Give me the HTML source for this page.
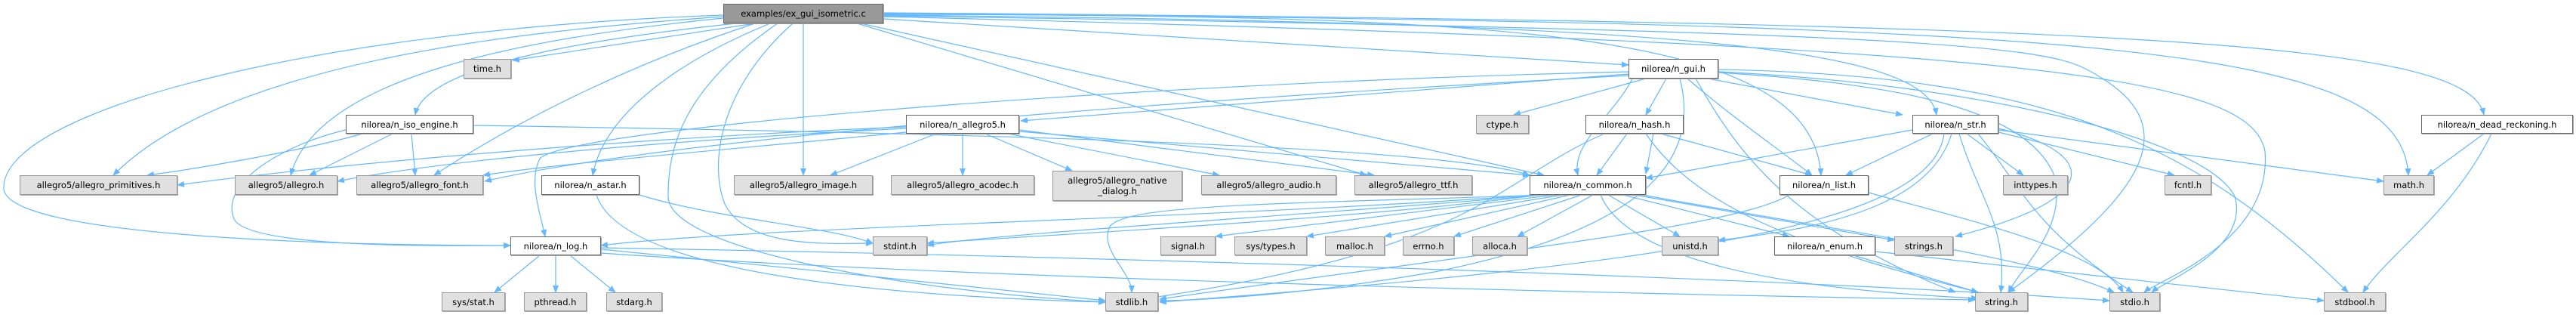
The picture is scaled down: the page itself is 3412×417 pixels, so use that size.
<!DOCTYPE html>
<html><head><meta charset="utf-8"><style>
body{margin:0;width:3412px;height:417px;background:#fff;position:relative;overflow:hidden;font-family:"DejaVu Sans","Liberation Sans",sans-serif;}
.n{position:absolute;box-sizing:border-box;border:1px solid #666;background:#fff;font-size:11.5px;color:#000;display:flex;align-items:center;justify-content:center;text-align:center;line-height:14px;white-space:nowrap;box-shadow:1px 1px 0 #aaa;}
.g{background:#e0e0e0;border-color:#999;}
.m{background:#999;border-color:#666;}
svg{position:absolute;left:0;top:0;}
</style></head><body>
<svg width="3412" height="417" viewBox="0 0 3412 417">
<defs><marker id="a" markerWidth="10" markerHeight="8" refX="9" refY="4" orient="auto" markerUnits="userSpaceOnUse"><path d="M0,0 L10,4 L0,8 z" fill="#63b8ff"/></marker></defs>
<g fill="none" stroke="#63b8ff" stroke-width="1.2" marker-end="url(#a)">
<!-- main -->
<path d="M958,22 C700,40 300,80 150,232"/>
<path d="M958,24 C700,50 420,100 385,232"/>
<path d="M958,20 C400,40 0,150 5,250 C10,310 400,325 676,325"/>
<path d="M1000,31 L679,80"/>
<path d="M975,31 C700,60 560,100 550,152"/>
<path d="M1000,31 C850,80 700,150 575,232"/>
<path d="M1020,31 C900,80 800,150 785,232"/>
<path d="M1064,31 L1064,232"/>
<path d="M1030,31 C900,120 885,200 885,260 C885,330 1200,385 1464,400"/>
<path d="M1050,31 C950,120 940,220 960,270 C990,330 1100,322 1156,322"/>
<path d="M1135,31 L1810,232"/>
<path d="M1140,31 L2045,232"/>
<path d="M1170,25 L2157,86"/>
<path d="M1170,19 C2000,20 2400,40 2412,232"/>
<path d="M1170,20 C2200,30 2550,60 2565,152"/>
<path d="M1170,18 C2800,30 3180,60 3190,232"/>
<path d="M1170,17 C2900,30 3270,60 3290,152"/>
<path d="M1170,21 C2500,40 2700,60 2760,90 C2900,160 2850,250 2660,387"/>
<path d="M1170,22 C2700,60 2980,100 3000,200 C3010,320 2860,370 2840,387"/>
<!-- iso -->
<path d="M480,177 C400,200 250,225 195,232"/>
<path d="M520,177 L410,232"/>
<path d="M545,177 L550,232"/>
<path d="M458,172 C380,190 290,240 310,290 C330,330 600,325 676,325"/>
<path d="M627,166 C1200,175 1900,190 2026,232"/>
<!-- gui -->
<path d="M2157,98 L1352,160"/>
<path d="M2157,95 C1500,110 750,170 715,210 C700,240 715,280 722,313"/>
<path d="M2157,100 C1600,130 900,180 642,240"/>
<path d="M2180,104 L2005,152"/>
<path d="M2207,104 L2180,152"/>
<path d="M2162,104 C2140,150 2080,190 2090,232"/>
<path d="M2225,104 C2250,200 2200,300 1900,360 C1700,395 1560,398 1536,398"/>
<path d="M2235,104 C2300,160 2360,200 2400,232"/>
<path d="M2262,104 L2520,152"/>
<path d="M2276,96 C2500,110 2680,140 2720,230 C2740,300 2680,350 2660,387"/>
<path d="M2276,95 C2600,110 2920,180 2960,260 C2980,330 2870,370 2850,387"/>
<path d="M2276,92 C2700,100 2900,180 3110,387"/>
<path d="M2246,104 C2300,200 2370,300 2590,387"/>
<!-- allegro5 -->
<path d="M1200,168 C900,180 500,210 235,245"/>
<path d="M1200,170 C900,185 600,210 447,240"/>
<path d="M1200,175 C1000,195 750,215 640,232"/>
<path d="M1240,177 L1100,232"/>
<path d="M1275,177 L1275,232"/>
<path d="M1305,177 L1420,226"/>
<path d="M1335,177 L1615,232"/>
<path d="M1350,172 L1820,232"/>
<path d="M1350,174 L2026,232"/>
<!-- hash -->
<path d="M2155,177 L2115,232"/>
<path d="M2125,177 C1980,240 1960,330 1520,395"/>
<path d="M2200,177 L2400,232"/>
<path d="M2180,177 C2250,280 2400,330 2620,387"/>
<path d="M2190,177 L2180,230"/>
<!-- str -->
<path d="M2533,172 L2180,236"/>
<path d="M2560,177 L2445,232"/>
<path d="M2605,177 L2680,232"/>
<path d="M2647,175 L2880,232"/>
<path d="M2647,172 L3157,240"/>
<path d="M2647,170 C2770,200 2800,260 2590,313"/>
<path d="M2595,177 C2620,260 2660,300 2650,387"/>
<path d="M2620,177 C2680,250 2690,300 2825,387"/>
<path d="M2585,177 C2560,260 2450,300 2276,318"/>
<path d="M2575,177 C2560,300 2200,350 1536,400"/>
<!-- dead -->
<path d="M3290,177 L3215,232"/>
<path d="M3300,177 C3250,280 3160,340 3130,387"/>
<!-- astar -->
<path d="M847,258 C950,290 1100,300 1156,322"/>
<path d="M790,258 C820,350 1100,390 1464,400"/>
<!-- common -->
<path d="M2035,258 C1600,290 1000,300 796,325"/>
<path d="M2040,258 C1800,290 1400,310 1228,322"/>
<path d="M2045,258 C1800,280 1300,310 1228,325"/>
<path d="M2060,258 L1610,313"/>
<path d="M2070,258 L1731,313"/>
<path d="M2080,258 L1834,313"/>
<path d="M2095,258 L1926,313"/>
<path d="M2110,258 L2010,313"/>
<path d="M2130,258 L2225,313"/>
<path d="M2150,258 L2370,313"/>
<path d="M2165,258 L2509,318"/>
<path d="M2120,258 C2150,330 2300,380 2620,395"/>
<path d="M2050,258 C1700,270 1490,270 1470,300 C1455,330 1499,360 1499,387"/>
<path d="M2176,258 C2400,300 2700,340 2800,387"/>
<!-- list -->
<path d="M2370,258 C2300,300 2000,330 1536,396"/>
<path d="M2475,255 C2600,290 2780,330 2812,387"/>
<!-- enum -->
<path d="M2455,338 L2620,387"/>
<path d="M2484,333 L3078,398"/>
<!-- log -->
<path d="M715,338 L655,387"/>
<path d="M736,338 L736,387"/>
<path d="M755,338 L815,387"/>
<path d="M796,330 C1000,350 1300,380 1464,398"/>
<path d="M796,328 C1500,340 2400,370 2794,398"/>
<path d="M796,335 C1300,370 2200,390 2616,397"/>
</g>
</svg>
<div class="n m" style="left:958px;top:5px;width:212px;height:26px">examples/ex_gui_isometric.c</div>
<div class="n g" style="left:614px;top:78px;width:63px;height:26px">time.h</div>
<div class="n" style="left:2157px;top:78px;width:119px;height:26px">nilorea/n_gui.h</div>
<div class="n" style="left:458px;top:152px;width:169px;height:25px">nilorea/n_iso_engine.h</div>
<div class="n" style="left:1200px;top:152px;width:150px;height:25px">nilorea/n_allegro5.h</div>
<div class="n g" style="left:1955px;top:152px;width:70px;height:25px">ctype.h</div>
<div class="n" style="left:2100px;top:152px;width:130px;height:25px">nilorea/n_hash.h</div>
<div class="n" style="left:2533px;top:152px;width:114px;height:25px">nilorea/n_str.h</div>
<div class="n" style="left:3207px;top:152px;width:201px;height:25px">nilorea/n_dead_reckoning.h</div>
<div class="n g" style="left:26px;top:232px;width:209px;height:26px">allegro5/allegro_primitives.h</div>
<div class="n g" style="left:311px;top:232px;width:136px;height:26px">allegro5/allegro.h</div>
<div class="n g" style="left:472px;top:232px;width:168px;height:26px">allegro5/allegro_font.h</div>
<div class="n" style="left:717px;top:232px;width:130px;height:26px">nilorea/n_astar.h</div>
<div class="n g" style="left:972px;top:232px;width:184px;height:26px">allegro5/allegro_image.h</div>
<div class="n g" style="left:1180px;top:232px;width:190px;height:26px">allegro5/allegro_acodec.h</div>
<div class="n g" style="left:1394px;top:226px;width:172px;height:40px">allegro5/allegro_native<br>_dialog.h</div>
<div class="n g" style="left:1591px;top:232px;width:179px;height:26px">allegro5/allegro_audio.h</div>
<div class="n g" style="left:1794px;top:232px;width:156px;height:26px">allegro5/allegro_ttf.h</div>
<div class="n" style="left:2026px;top:232px;width:154px;height:26px">nilorea/n_common.h</div>
<div class="n" style="left:2357px;top:232px;width:118px;height:26px">nilorea/n_list.h</div>
<div class="n g" style="left:2653px;top:232px;width:86px;height:26px">inttypes.h</div>
<div class="n g" style="left:2867px;top:232px;width:62px;height:26px">fcntl.h</div>
<div class="n g" style="left:3157px;top:232px;width:67px;height:26px">math.h</div>
<div class="n" style="left:676px;top:313px;width:120px;height:25px">nilorea/n_log.h</div>
<div class="n g" style="left:1156px;top:313px;width:72px;height:25px">stdint.h</div>
<div class="n g" style="left:1537px;top:313px;width:73px;height:25px">signal.h</div>
<div class="n g" style="left:1635px;top:313px;width:96px;height:25px">sys/types.h</div>
<div class="n g" style="left:1755px;top:313px;width:79px;height:25px">malloc.h</div>
<div class="n g" style="left:1858px;top:313px;width:68px;height:25px">errno.h</div>
<div class="n g" style="left:1950px;top:313px;width:73px;height:25px">alloca.h</div>
<div class="n g" style="left:2201px;top:313px;width:75px;height:25px">unistd.h</div>
<div class="n" style="left:2350px;top:313px;width:134px;height:25px">nilorea/n_enum.h</div>
<div class="n g" style="left:2509px;top:313px;width:78px;height:25px">strings.h</div>
<div class="n g" style="left:585px;top:387px;width:84px;height:25px">sys/stat.h</div>
<div class="n g" style="left:694px;top:387px;width:83px;height:25px">pthread.h</div>
<div class="n g" style="left:803px;top:387px;width:74px;height:25px">stdarg.h</div>
<div class="n g" style="left:1464px;top:387px;width:70px;height:25px">stdlib.h</div>
<div class="n g" style="left:2616px;top:387px;width:70px;height:25px">string.h</div>
<div class="n g" style="left:2794px;top:387px;width:67px;height:25px">stdio.h</div>
<div class="n g" style="left:3078px;top:387px;width:82px;height:25px">stdbool.h</div>
</body></html>
